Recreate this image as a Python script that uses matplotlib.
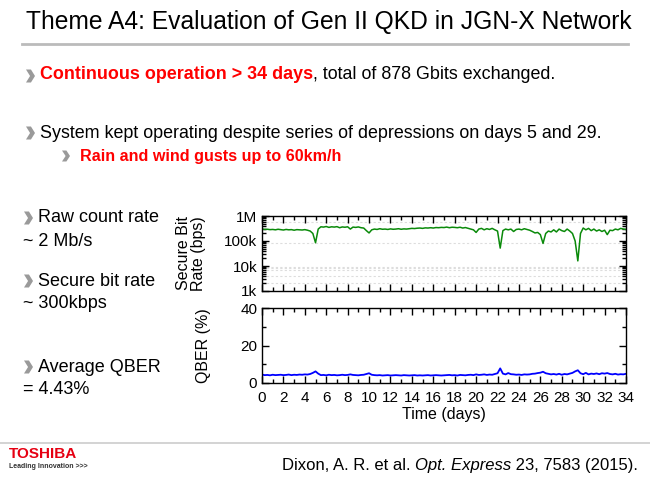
import numpy as np
import matplotlib
matplotlib.use("Agg")
from matplotlib import pyplot as plt
from matplotlib.patches import Polygon
from matplotlib.ticker import MultipleLocator, FixedLocator, NullFormatter

plt.rcParams['font.family'] = ['Liberation Sans', 'DejaVu Sans']

# secure bit rate (kbps), one reading every 6 h from day 0 to day 34
rate_kbps = [
    300, 290, 295, 285, 290, 280, 295, 285, 275, 290, 280, 285, 270, 285, 280, 275, 285, 270, 250, 200,
    85, 300, 370, 360, 380, 350, 370, 360, 375, 340, 365, 355, 370, 300, 360, 350, 365, 340, 330, 260,
    210, 280, 300, 290, 310, 295, 300, 290, 305, 295, 300, 310, 295, 305, 300, 310, 320, 315, 325, 330,
    320, 335, 330, 340, 330, 345, 340, 350, 345, 360, 340, 355, 350, 340, 355, 330, 345, 320, 300, 280,
    220, 300, 320, 280, 310, 290, 320, 280, 250, 52, 260, 300, 280, 300, 240, 290, 300, 280, 310, 290,
    270, 240, 210, 220, 180, 80, 200, 250, 230, 280, 230, 300, 260, 240, 300, 250, 200, 100, 16, 200,
    330, 280, 320, 260, 300, 250, 280, 240, 270, 180, 270, 260, 300, 280, 320, 300, 290,
]

# QBER (%) on the same time grid
qber = [
    4.5, 4.2, 4.3, 4.1, 4.4, 4.2, 4.3, 4.4, 4.2, 4.3, 4.5, 4.2, 4.4, 4.3, 4.5, 4.4, 4.6, 4.5, 4.8, 5.4,
    6.2, 5.0, 4.2, 4.3, 4.1, 4.4, 4.2, 4.3, 4.1, 4.2, 4.4, 4.2, 4.3, 4.6, 4.3, 4.2, 4.1, 4.3, 4.4, 4.8,
    5.2, 4.4, 4.2, 4.1, 4.2, 4.0, 4.1, 4.2, 4.0, 4.1, 4.2, 4.1, 4.0, 4.2, 4.1, 4.0, 4.1, 4.2, 4.0, 4.1,
    4.0, 4.1, 4.2, 4.0, 4.1, 4.2, 4.1, 4.0, 4.1, 4.2, 4.3, 4.1, 4.2, 4.0, 4.3, 4.2, 4.1, 4.3, 4.4, 4.2,
    4.6, 4.3, 4.4, 4.6, 4.3, 4.5, 4.4, 4.8, 5.2, 7.8, 5.0, 4.6, 5.3, 4.7, 4.6, 4.4, 4.5, 4.3, 4.6, 4.5,
    4.6, 4.9, 5.0, 5.3, 5.5, 6.0, 5.2, 4.9, 4.6, 4.8, 4.5, 4.9, 4.4, 4.8, 4.6, 5.0, 5.4, 6.2, 6.8, 5.2,
    4.7, 5.4, 4.6, 5.0, 4.8, 5.1, 4.7, 5.2, 5.0, 5.3, 4.8, 4.6, 4.9, 4.5, 4.7, 4.6, 4.9,
]

days = np.arange(len(rate_kbps)) * 0.25

rate_ticks = [1e3, 1e4, 1e5, 1e6]
rate_labels = ['1k', '10k', '100k', '1M']
faint_lines = [2e3, 4e3, 7e3, 8e3, 9e3, 8e4, 6e5]

W, H = 650, 479
fig = plt.figure(figsize=(W / 100, H / 100), dpi=100)
bg = fig.add_axes([0, 0, 1, 1])
bg.set_xlim(0, W)
bg.set_ylim(H, 0)
bg.axis('off')


def chevron(x, y, w=9, h=6.5):
    # gray bullet arrow like the slide's
    pts = [(x, y - h), (x + w * 0.55, y - h), (x + w, y), (x + w * 0.55, y + h), (x, y + h),
           (x + w * 0.45, y)]
    bg.add_patch(Polygon(pts, closed=True, color='#9a9a9a', lw=0))


# ---- slide text ----
bg.text(329, 22, 'Theme A4: Evaluation of Gen II QKD in JGN-X Network', fontsize=17.7,
        ha='center', va='center', color='black')
bg.plot([22, 628], [44, 44], color='#bbbbbb', lw=2)
bg.plot([0, 650], [443, 443], color='#cccccc', lw=1.2)

chevron(26, 76)
t1 = bg.text(40, 83, 'Continuous operation > 34 days', fontsize=12.9, color='#ff0000',
             fontweight='bold', va='bottom')
bg.annotate(', total of 878 Gbits exchanged.', xy=(1, 0), xycoords=t1, fontsize=12.9,
            va='bottom', ha='left')

chevron(26, 133)
bg.text(40, 133, 'System kept operating despite series of depressions on days 5 and 29.',
        fontsize=12.9, va='center')
chevron(62, 156, w=8, h=5.5)
bg.text(80, 156, 'Rain and wind gusts up to 60km/h', fontsize=11.6, color='#ff0000',
        fontweight='bold', va='center')

side = [('Raw count rate', '~ 2 Mb/s', 218), ('Secure bit rate', '~ 300kbps', 281),
        ('Average QBER', '= 4.43%', 367)]
for head, val, yy in side:
    chevron(24, yy)
    bg.text(38, yy, head, fontsize=13, va='center')
    bg.text(23, yy + 23, val, fontsize=13, va='center')

# citation
c1 = bg.text(282, 473, 'Dixon, A. R. et al. ', fontsize=12, va='bottom')
c2 = bg.annotate('Opt. Express', xy=(1, 0), xycoords=c1, fontsize=12, style='italic', va='bottom')
bg.annotate(' 23, 7583 (2015).', xy=(1, 0), xycoords=c2, fontsize=12, va='bottom')

# logo
bg.text(9, 454, 'TOSHIBA', fontsize=11, fontweight='heavy', color='#e60012', va='center')
bg.text(9, 467, 'Leading Innovation >>>', fontsize=5, fontweight='bold', color='#333333',
        va='center')

# ---- chart ----
ax1 = fig.add_axes([262 / W, 1 - 291 / H, 364 / W, 75 / H])
ax2 = fig.add_axes([262 / W, 1 - 383 / H, 364 / W, 75 / H])

for y in faint_lines:
    ax1.axhline(y, color='#dddddd', lw=0.8, ls=(0, (2, 2)), zorder=0)
ax1.plot(days, np.array(rate_kbps) * 1000, color='#0a8a0a', lw=1.1)
ax1.set_yscale('log')
ax1.set_ylim(1e3, 1e6)
ax1.yaxis.set_major_locator(FixedLocator(rate_ticks))
ax1.set_yticklabels(rate_labels)
ax1.yaxis.set_minor_formatter(NullFormatter())

ax2.plot(days, qber, color='#0000ff', lw=1.3)
ax2.set_ylim(0, 40)
ax2.yaxis.set_major_locator(MultipleLocator(20))
ax2.yaxis.set_minor_locator(MultipleLocator(10))

for ax in (ax1, ax2):
    ax.set_xlim(0, 34)
    ax.xaxis.set_major_locator(MultipleLocator(2))
    ax.xaxis.set_minor_locator(MultipleLocator(1))
    ax.tick_params(which='both', direction='in', top=True, right=True, labelsize=11, width=1)
    ax.tick_params(which='major', length=5)
    ax.tick_params(which='minor', length=3)
    for s in ax.spines.values():
        s.set_linewidth(1)
ax1.tick_params(labelbottom=False)
ax2.tick_params(axis='x', pad=6)

ax1.set_ylabel('Secure Bit\nRate (bps)', fontsize=11.5, linespacing=1.0)
ax1.yaxis.set_label_coords(-0.155, 0.5)
ax2.set_ylabel('QBER (%)', fontsize=11.5)
ax2.yaxis.set_label_coords(-0.14, 0.5)
ax2.set_xlabel('Time (days)', fontsize=11.5, labelpad=1)

fig.savefig('out.png', dpi=100)
